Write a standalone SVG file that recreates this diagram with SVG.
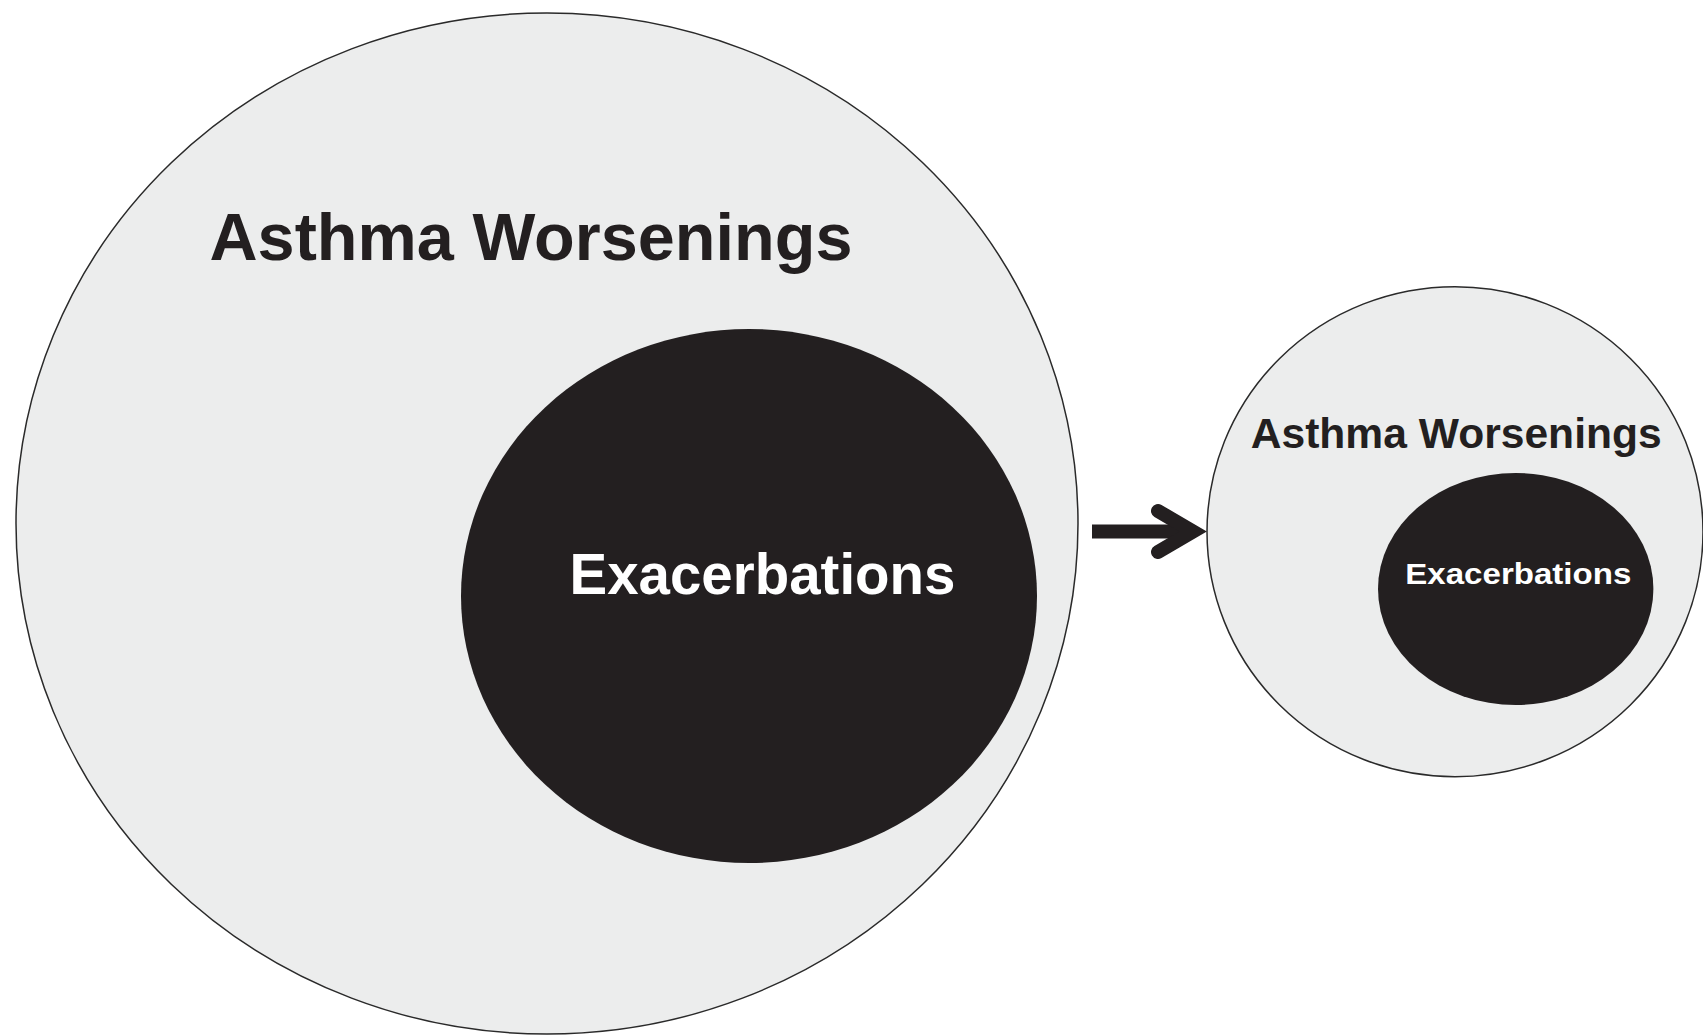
<svg xmlns="http://www.w3.org/2000/svg" width="1703" height="1036" viewBox="0 0 1703 1036">
<style>
.outer{fill:#eceded;stroke:#2a2a2a;stroke-width:1.5}
.inner{fill:#231f20}
.lbl{font-family:"Liberation Sans",Arial,sans-serif;font-weight:bold}
.dark{fill:#231f20}
.light{fill:#ffffff}
.arrow{fill:none;stroke:#231f20;stroke-width:14}
</style>
<rect width="1703" height="1036" fill="#ffffff"/>
<g id="big-worsenings">
<ellipse class="outer" cx="547" cy="523.5" rx="531" ry="510.5"/>
<text class="lbl dark" x="209.5" y="260" font-size="67" textLength="643" lengthAdjust="spacingAndGlyphs">Asthma Worsenings</text>
</g>
<g id="big-exacerbations">
<ellipse class="inner" cx="749" cy="596" rx="288" ry="267"/>
<text class="lbl light" x="569.5" y="593.5" font-size="57" textLength="386" lengthAdjust="spacingAndGlyphs">Exacerbations</text>
</g>
<g id="small-worsenings">
<ellipse class="outer" cx="1455" cy="531.7" rx="248" ry="245"/>
<text class="lbl dark" x="1250.7" y="448.3" font-size="42" textLength="411" lengthAdjust="spacingAndGlyphs">Asthma Worsenings</text>
</g>
<g id="small-exacerbations">
<ellipse class="inner" cx="1515.7" cy="589" rx="137.7" ry="116"/>
<text class="lbl light" x="1405.3" y="584" font-size="30" textLength="226" lengthAdjust="spacingAndGlyphs">Exacerbations</text>
</g>
<g id="connectors">
<line class="arrow" x1="1092" y1="531.5" x2="1186" y2="531.5" stroke-linecap="butt"/>
<polyline class="arrow" points="1158,511 1193,531.5 1158,552" stroke-linecap="round" stroke-linejoin="miter"/>
</g>
</svg>
